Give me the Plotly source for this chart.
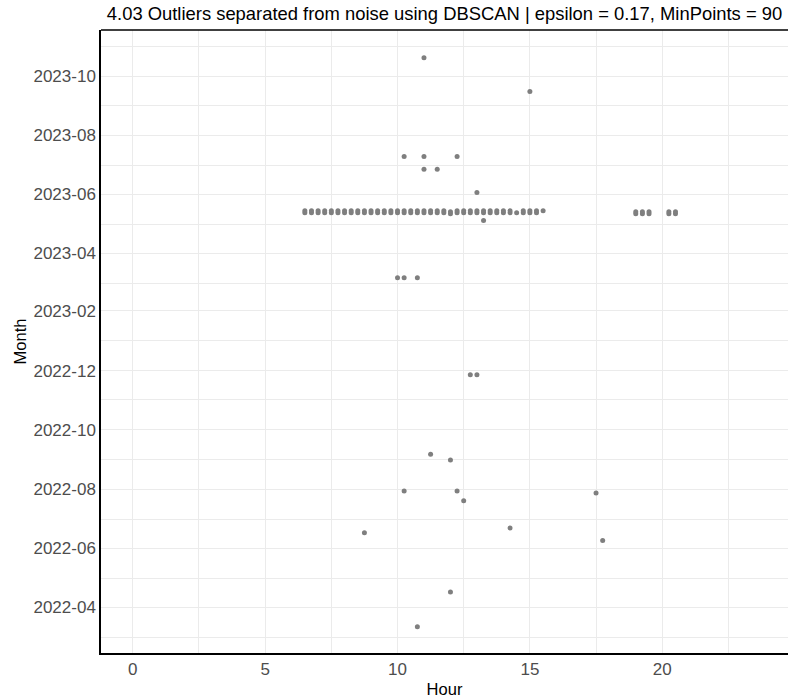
import plotly.graph_objects as go

# ---- data ----
hour = [
    # dense cluster around mid-May 2023 (two observations per stacked mark)
    6.5, 6.5, 6.75, 6.75, 7.0, 7.0, 7.25, 7.25, 7.5, 7.5, 7.75, 7.75,
    8.0, 8.0, 8.25, 8.25, 8.5, 8.5, 8.75, 8.75, 9.0, 9.0, 9.25, 9.25,
    9.5, 9.5, 9.75, 9.75, 10.0, 10.0, 10.25, 10.25, 10.5, 10.5, 10.75, 10.75,
    11.0, 11.0, 11.25, 11.25, 11.5, 11.5, 11.75, 11.75, 12.0, 12.0, 12.25, 12.25,
    12.5, 12.5, 12.75, 12.75, 13.0, 13.0, 13.25, 13.25, 13.5, 13.5, 13.75, 13.75,
    14.0, 14.0, 14.25, 14.25, 14.5, 14.75, 14.75, 15.0, 15.0, 15.25, 15.25, 15.5,
    19.0, 19.0, 19.25, 19.25, 19.5, 19.5, 20.25, 20.25, 20.5, 20.5,
    # scattered points
    11.0, 15.0, 10.25, 11.0, 12.25, 11.0, 11.5, 13.0, 13.25,
    10.0, 10.25, 10.75, 12.75, 13.0, 11.25, 12.0, 10.25, 12.25,
    12.5, 17.5, 14.25, 8.75, 17.75, 12.0, 10.75,
]
month = [
    "2023-05-13", "2023-05-15", "2023-05-13", "2023-05-15", "2023-05-13", "2023-05-15",
    "2023-05-13", "2023-05-15", "2023-05-13", "2023-05-15", "2023-05-13", "2023-05-15",
    "2023-05-13", "2023-05-15", "2023-05-13", "2023-05-15", "2023-05-13", "2023-05-15",
    "2023-05-13", "2023-05-15", "2023-05-13", "2023-05-15", "2023-05-13", "2023-05-15",
    "2023-05-13", "2023-05-15", "2023-05-13", "2023-05-15", "2023-05-13", "2023-05-15",
    "2023-05-13", "2023-05-15", "2023-05-13", "2023-05-15", "2023-05-13", "2023-05-15",
    "2023-05-13", "2023-05-15", "2023-05-13", "2023-05-15", "2023-05-13", "2023-05-15",
    "2023-05-13", "2023-05-15", "2023-05-12", "2023-05-14", "2023-05-13", "2023-05-15",
    "2023-05-13", "2023-05-15", "2023-05-13", "2023-05-15", "2023-05-13", "2023-05-15",
    "2023-05-13", "2023-05-15", "2023-05-13", "2023-05-15", "2023-05-13", "2023-05-15",
    "2023-05-13", "2023-05-15", "2023-05-13", "2023-05-15", "2023-05-13",
    "2023-05-13", "2023-05-15", "2023-05-13", "2023-05-15", "2023-05-13", "2023-05-15",
    "2023-05-15",
    "2023-05-12", "2023-05-14", "2023-05-12", "2023-05-14", "2023-05-12", "2023-05-14",
    "2023-05-12", "2023-05-14", "2023-05-12", "2023-05-14",
    "2023-10-20", "2023-09-15", "2023-07-10", "2023-07-10", "2023-07-10", "2023-06-27",
    "2023-06-27", "2023-06-03", "2023-05-05",
    "2023-03-07", "2023-03-07", "2023-03-07", "2022-11-27", "2022-11-27", "2022-09-06",
    "2022-08-31", "2022-07-30", "2022-07-30",
    "2022-07-20", "2022-07-28", "2022-06-22", "2022-06-17", "2022-06-09", "2022-04-17",
    "2022-03-12",
]

x_ticks = [0, 5, 10, 15, 20]
x_range = [-1.2, 24.75]
y_range = ["2022-02-13", "2023-11-17 12:00"]

title_text = "4.03 Outliers separated from noise using DBSCAN | epsilon = 0.17, MinPoints = 90"

FONT = "Liberation Sans, Arial, sans-serif"
GRID = "#ebebeb"

W, H = 788, 698

fig = go.Figure(
    go.Scatter(
        x=hour, y=month, mode="markers",
        marker=dict(size=5, color="#7f7f7f", line=dict(width=0)),
        hoverinfo="x+y",
    )
)

fig.update_layout(
    width=W, height=H,
    margin=dict(l=101, r=0, t=30, b=45),
    paper_bgcolor="white", plot_bgcolor="white",
    showlegend=False,
    font=dict(family=FONT, size=17, color="#4d4d4d"),
    title=dict(text=title_text, x=0.5, xref="paper", xanchor="center",
               y=1 - 14 / H, yref="container", yanchor="middle",
               font=dict(family=FONT, size=18.4, color="black")),
    xaxis=dict(
        range=x_range, tickmode="array", tickvals=x_ticks,
        showgrid=True, gridcolor=GRID, gridwidth=1,
        minor=dict(dtick=2.5, tick0=0, showgrid=True, gridcolor=GRID, gridwidth=1),
        zeroline=False, showline=True, linecolor="black", linewidth=2,
        ticks="", tickfont=dict(size=17, color="#4d4d4d"),
        title=dict(text="Hour", font=dict(size=16.5, color="black"), standoff=5),
        automargin=False,
    ),
    yaxis=dict(
        type="date", range=y_range, dtick="M2", tick0="2022-04-01",
        tickformat="%Y-%m",
        showgrid=True, gridcolor=GRID, gridwidth=1,
        minor=dict(dtick="M1", tick0="2022-03-01", showgrid=True, gridcolor=GRID, gridwidth=1),
        zeroline=False, showline=True, linecolor="black", linewidth=1.5,
        ticks="", tickfont=dict(size=17, color="#4d4d4d"),
        title=dict(text="Month", font=dict(size=16.5, color="black"), standoff=3),
        automargin=False,
    ),
    shapes=[dict(type="line", xref="paper", yref="paper", x0=0, x1=1, y0=1, y1=1,
                 line=dict(color="black", width=1.5), layer="above")],
)

fig.write_html(
    "out.html",
    config={"displayModeBar": False},
    post_script="document.body.style.margin='0';document.body.style.overflow='hidden';",
)
